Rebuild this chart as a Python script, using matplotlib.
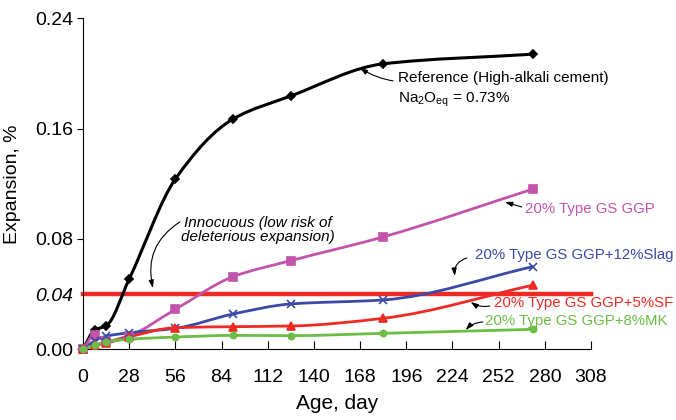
import numpy as np
import matplotlib
matplotlib.use("Agg")
import matplotlib.pyplot as plt
from matplotlib.path import Path
from matplotlib.patches import PathPatch

# data
days = [0, 7, 14, 28, 56, 91, 126, 182, 273]
reference = [0, 0.014, 0.017, 0.051, 0.1235, 0.167, 0.1837, 0.207, 0.214]
ggp = [0, 0.0105, 0.006, 0.010, 0.029, 0.0527, 0.0643, 0.0815, 0.1163]
ggp_slag = [0, 0.006, 0.0095, 0.012, 0.0152, 0.0256, 0.0329, 0.0358, 0.060]
ggp_sf = [0, 0.003, 0.0045, 0.009, 0.0157, 0.0164, 0.0169, 0.0225, 0.0466]
ggp_mk = [0, 0.003, 0.0055, 0.0073, 0.0089, 0.0101, 0.0099, 0.0116, 0.0145]
limit = 0.04

x_ticks = list(range(0, 309, 28))
y_ticks = [0, 0.04, 0.08, 0.16, 0.24]
y_tick_labels = ['0.00', '0.04', '0.08', '0.16', '0.24']

font = 'Liberation Sans'
plt.rcParams['font.family'] = [font, 'DejaVu Sans']
plt.rcParams['mathtext.fontset'] = 'custom'
plt.rcParams['mathtext.rm'] = font
plt.rcParams['mathtext.it'] = font + ':italic'


def smooth_path(x, y):
    # monotone cubic through the points, drawn as bezier segments
    x = np.asarray(x, float)
    y = np.asarray(y, float)
    h = np.diff(x)
    d = np.diff(y) / h
    m = np.zeros_like(y)
    m[0], m[-1] = d[0], d[-1]
    for i in range(1, len(x) - 1):
        if d[i - 1] * d[i] > 0:
            w1 = 2 * h[i] + h[i - 1]
            w2 = h[i] + 2 * h[i - 1]
            m[i] = (w1 + w2) / (w1 / d[i - 1] + w2 / d[i])
    verts = [(x[0], y[0])]
    codes = [Path.MOVETO]
    for i in range(len(x) - 1):
        verts += [(x[i] + h[i] / 3, y[i] + m[i] * h[i] / 3),
                  (x[i + 1] - h[i] / 3, y[i + 1] - m[i + 1] * h[i] / 3),
                  (x[i + 1], y[i + 1])]
        codes += [Path.CURVE4] * 3
    return Path(verts, codes)


fig = plt.figure(figsize=(6.76, 4.2), dpi=100)
ax = fig.add_axes([0.1228, 0.1683, 0.7515, 0.7881])

ax.axhline(limit, color='#ee2a24', lw=3.2, zorder=2, clip_on=False)

series = [
    (reference, 'black', 'D', 4.5, 2.2),
    (ggp, '#c254ab', 's', 6, 2.0),
    (ggp_slag, '#3a4aa6', 'x', 6, 2.0),
    (ggp_sf, '#ee2a24', '^', 6, 2.0),
    (ggp_mk, '#6cbd45', 'o', 4.5, 2.0),
]
for vals, col, mk, ms, lw in series:
    ax.add_patch(PathPatch(smooth_path(days, vals), fill=False, edgecolor=col,
                           lw=lw, zorder=3, clip_on=False))
    ax.plot(days, vals, linestyle='none', marker=mk, color=col, ms=ms,
            mew=1.2, zorder=4, clip_on=False)

ax.set_xlim(0, 308)
ax.set_ylim(0, 0.24)
ax.set_xticks(x_ticks)
ax.set_yticks(y_ticks)
ax.set_yticklabels(y_tick_labels)
ax.spines['top'].set_visible(False)
ax.spines['right'].set_visible(False)
ax.tick_params(axis='x', direction='in', length=6, pad=14, labelsize=14)
ax.tick_params(axis='y', direction='out', length=4, pad=3, labelsize=14)
ax.get_yticklabels()[1].set_style('italic')
ax.yaxis.get_major_ticks()[1].tick1line.set_visible(False)

ax.set_xlabel('Age, day', fontsize=15, labelpad=6)
ax.set_ylabel('Expansion, %', fontsize=14, labelpad=10)

arrow = dict(arrowstyle='-|>,head_length=0.45,head_width=0.15', color='black', lw=0.8,
             shrinkA=0, shrinkB=0)

ax.text(191, 0.1967, 'Reference (High-alkali cement)', fontsize=11, va='center')
ax.text(191, 0.1808, r'Na$_2$O$_{\rm eq}$ = 0.73%', fontsize=11, va='center')
ax.annotate('', xy=(167.8, 0.204), xytext=(188, 0.1946),
            arrowprops=dict(arrow, connectionstyle='arc3,rad=-0.1'))

ax.text(106, 0.0868, 'Innocuous (low risk of\ndeleterious expansion)', fontsize=11,
        style='italic', ha='center', va='center', linespacing=1.0)
ax.annotate('', xy=(42.4, 0.0445), xytext=(58.8, 0.0924),
            arrowprops=dict(arrow, connectionstyle='arc3,rad=0.35'))

ax.text(267.8, 0.1018, '20% Type GS GGP', fontsize=10.8, color='#c254ab', va='center')
ax.annotate('', xy=(255.7, 0.1068), xytext=(266, 0.1032),
            arrowprops=dict(arrow, connectionstyle='arc3,rad=0'))

ax.text(237.5, 0.0684, '20% Type GS GGP+12%Slag', fontsize=10.8, color='#3a4aa6', va='center')
ax.annotate('', xy=(225.4, 0.0532), xytext=(232.7, 0.0662),
            arrowprops=dict(arrow, connectionstyle='arc3,rad=0.4'))

ax.text(249, 0.0336, '20% Type GS GGP+5%SF', fontsize=10.8, color='#ee2a24', va='center')
ax.annotate('', xy=(235, 0.0343), xytext=(246.6, 0.0314),
            arrowprops=dict(arrow, connectionstyle='arc3,rad=-0.2'))

ax.text(243.6, 0.0205, '20% Type GS GGP+8%MK', fontsize=10.8, color='#6cbd45', va='center')
ax.annotate('', xy=(232, 0.014), xytext=(242.4, 0.0198),
            arrowprops=dict(arrow, connectionstyle='arc3,rad=0.2'))

fig.savefig('out.png', dpi=100)
